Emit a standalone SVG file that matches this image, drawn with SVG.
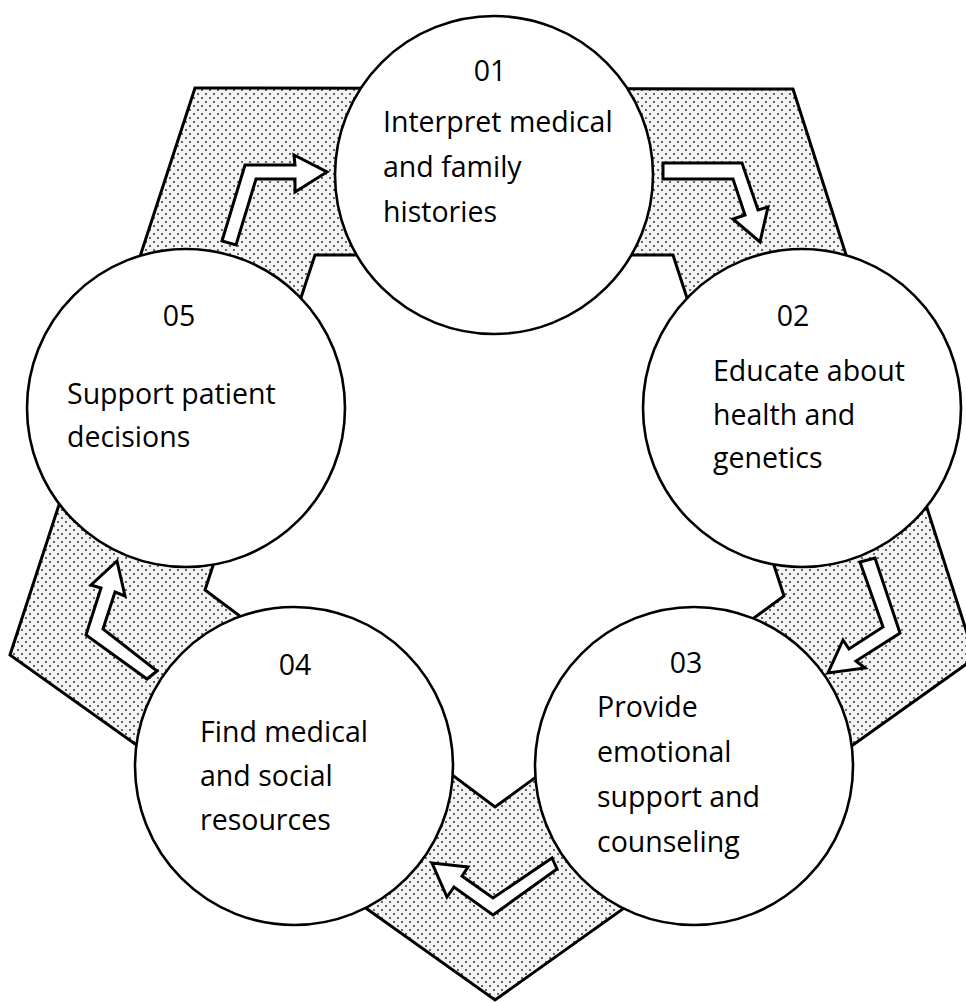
<svg xmlns="http://www.w3.org/2000/svg" width="966" height="1003" viewBox="0 0 966 1003">
<defs>
<pattern id="dots" width="8" height="8" patternUnits="userSpaceOnUse">
<rect width="8" height="8" fill="#f4f4f4"/>
<circle cx="2" cy="2" r="0.9" fill="#222"/>
<circle cx="6" cy="6" r="0.9" fill="#222"/>
</pattern>
<style>
.band{fill:url(#dots);stroke:#000;stroke-width:3;stroke-linejoin:miter;fill-rule:evenodd}
.node{fill:#fff;stroke:#000;stroke-width:2.6}
.arrow{fill:#fff;stroke:#000;stroke-width:3;stroke-linejoin:miter}
text{font-family:"Open Sans","Noto Sans","Liberation Sans",sans-serif;font-size:28.5px;fill:#000}
.num{text-anchor:middle}
</style>
</defs>
<rect width="966" height="1003" fill="#fff"/>
<path id="band" class="band" d="M195,88 L793,89 L975,658 L495,1000 L10,655 Z M315,255 L205,590 L495,807 L784,596 L673,255 Z"/>
<g id="connectors">
<polygon class="arrow" points="222,241 245,165 295,165 294,155 327,172 295,192 295,179 256,179 236,245"/>
<polygon class="arrow" points="663,163 742,163 758,210 768,207 760,242 733,219 745,215 733,179 663,179"/>
<polygon class="arrow" points="860,562 875,558 900,633 856,661 865,668 828,673 843,640 849,649 883,627"/>
<polygon class="arrow" points="552,858 557,869 493,915 454,887 447,897 432,863 468,867 462,876 493,898"/>
<polygon class="arrow" points="157,671 147,679 86,635 101,588 91,585 117,561 125,596 115,592 103,629"/>
</g>
<g id="node01">
<circle class="node" cx="494" cy="175" r="159"/>
<text class="num" x="490" y="81">01</text>
<text x="383" y="132">Interpret medical</text>
<text x="383" y="177">and family</text>
<text x="383" y="222">histories</text>
</g>
<g id="node02">
<circle class="node" cx="802" cy="408" r="159"/>
<text class="num" x="793" y="326">02</text>
<text x="713" y="381">Educate about</text>
<text x="713" y="425">health and</text>
<text x="713" y="468">genetics</text>
</g>
<g id="node03">
<circle class="node" cx="694" cy="766" r="159"/>
<text class="num" x="686" y="673">03</text>
<text x="597" y="717">Provide</text>
<text x="597" y="762">emotional</text>
<text x="597" y="807">support and</text>
<text x="597" y="852">counseling</text>
</g>
<g id="node04">
<circle class="node" cx="294" cy="766" r="159"/>
<text class="num" x="295" y="675">04</text>
<text x="200" y="742">Find medical</text>
<text x="200" y="786">and social</text>
<text x="200" y="830">resources</text>
</g>
<g id="node05">
<circle class="node" cx="186" cy="408" r="159"/>
<text class="num" x="179" y="326">05</text>
<text x="67" y="404">Support patient</text>
<text x="67" y="447">decisions</text>
</g>
</svg>
